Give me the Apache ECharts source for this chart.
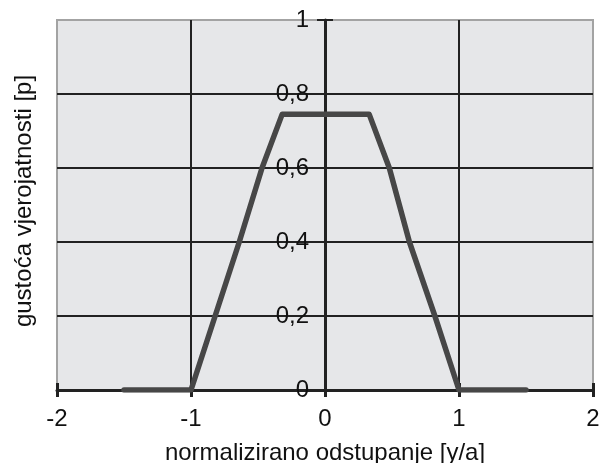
<!DOCTYPE html>
<html>
<head>
<meta charset="utf-8">
<script src="https://cdn.jsdelivr.net/npm/echarts@6/dist/echarts.min.js"></script>
<style>
html,body{margin:0;padding:0;background:#fff;}
#chart{width:599px;height:463px;}
</style>
</head>
<body>
<div id="chart"></div>
<script>
// x values (normalizirano odstupanje [y/a])
const xValues = [-1.5, -1, -0.82, -0.64, -0.47, -0.32, 0.33, 0.48, 0.63, 0.82, 1, 1.5];
// probability density values
const pValues = [0, 0, 0.2, 0.4, 0.6, 0.745, 0.745, 0.6, 0.4, 0.2, 0, 0];
const xTicks = [-2, -1, 0, 1, 2];
const yTicks = [0, 0.2, 0.4, 0.6, 0.8, 1];
const xTitle = 'normalizirano odstupanje [y/a]';
const yTitle = 'gustoća vjerojatnosti [p]';

const font = '"Liberation Sans", Arial, sans-serif';
const fs = 24;
const gridLeft = 57, gridRight = 6;
const W = 599;
// y axis sits at x = 0 of the x axis (middle of the plot)
const yAxisOffset = -((W - gridLeft - gridRight) / 2);

const chart = echarts.init(document.getElementById('chart'));
const points = xValues.map((x, i) => [x, pValues[i]]);

chart.setOption({
  animation: false,
  grid: {
    left: gridLeft, right: gridRight, top: 20, bottom: 73,
    containLabel: false, outerBoundsMode: 'none',
    show: true, backgroundColor: '#e6e7e9',
    borderColor: '#a3a3a3', borderWidth: 2
  },
  xAxis: [{
    type: 'value', min: xTicks[0], max: xTicks[xTicks.length - 1], interval: 1,
    position: 'bottom',
    name: xTitle, nameLocation: 'middle', nameGap: 51,
    nameTextStyle: { fontFamily: font, fontSize: fs, color: '#111' },
    axisLine: { onZero: false, lineStyle: { color: '#222', width: 3 } },
    axisTick: { show: true, length: 7, lineStyle: { color: '#222', width: 3 } },
    axisLabel: { fontFamily: font, fontSize: fs, color: '#111', margin: 17 },
    splitLine: { show: true, showMinLine: false, showMaxLine: false,
      lineStyle: { color: '#222', width: 2 } }
  }, {
    type: 'value', min: xTicks[0], max: xTicks[xTicks.length - 1], interval: 1,
    position: 'bottom',
    axisLine: { show: false, onZero: false },
    axisTick: { show: true, inside: true, length: 7, lineStyle: { color: '#222', width: 3 } },
    axisLabel: { show: false },
    splitLine: { show: false }
  }],
  yAxis: [{
    type: 'value', min: yTicks[0], max: yTicks[yTicks.length - 1], interval: 0.2,
    position: 'left', offset: yAxisOffset,
    axisLine: { show: true, onZero: false, lineStyle: { color: '#222', width: 3 } },
    axisTick: { show: true, length: 8, lineStyle: { color: '#222', width: 2 } },
    axisLabel: {
      fontFamily: font, fontSize: fs, color: '#111', margin: 16,
      formatter: v => String(Math.round(v * 10) / 10).replace('.', ',')
    },
    splitLine: { show: true, showMinLine: false, showMaxLine: false,
      lineStyle: { color: '#222', width: 2 } }
  }, {
    type: 'value', min: yTicks[0], max: yTicks[yTicks.length - 1], interval: 0.2,
    position: 'left', offset: yAxisOffset,
    axisLine: { show: false, onZero: false },
    axisTick: { show: true, inside: true, length: 8, lineStyle: { color: '#222', width: 2 } },
    axisLabel: { show: false },
    splitLine: { show: false }
  }],
  graphic: [{
    type: 'text',
    x: 24, y: 201,
    rotation: Math.PI / 2,
    style: { text: yTitle, font: fs + 'px ' + font, fill: '#111',
      align: 'center', verticalAlign: 'middle' }
  }],
  series: [{
    type: 'line', data: points, symbol: 'none',
    lineStyle: { color: '#474747', width: 5.5, cap: 'round', join: 'round' },
    z: 5
  }]
});
</script>
</body>
</html>
